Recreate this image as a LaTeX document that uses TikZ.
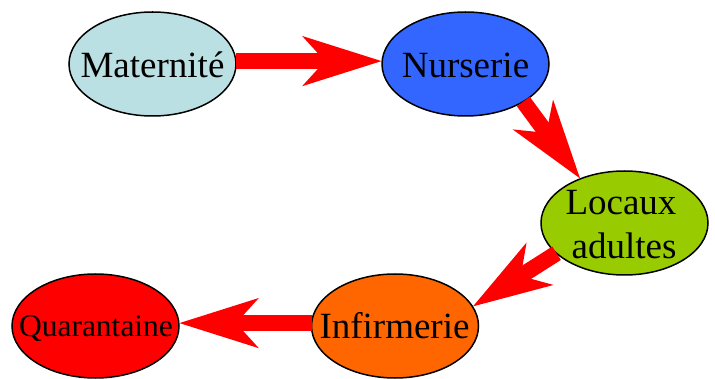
\documentclass[tikz,border=0pt]{standalone}
\usepackage{fontspec}
\setmainfont{Liberation Serif}
\newfontfamily\timesfont{Liberation Serif}
\usetikzlibrary{arrows.meta,shapes.geometric}
\definecolor{matcol}{HTML}{BBE0E3}
\definecolor{nurcol}{HTML}{3366FF}
\definecolor{loccol}{HTML}{99CC00}
\definecolor{infcol}{HTML}{FF6600}
\definecolor{quacol}{HTML}{FF0000}
\begin{document}
\begin{tikzpicture}[x=1pt,y=-1pt,
  place/.style={ellipse, draw=black, line width=1.5pt, inner sep=0pt, outer sep=0pt,
                minimum width=167pt, minimum height=104pt},
  lbl/.style={anchor=base, inner sep=0pt, font=\timesfont\fontsize{37}{43}\selectfont},
  smalllbl/.style={anchor=base, inner sep=0pt, font=\timesfont\fontsize{31.5}{36}\selectfont},
  flow/.style={draw=red, line width=16pt,
               -{Stealth[length=78pt,width=48pt,inset=21pt,fill=red,color=red]}}]
\useasboundingbox (0,0) rectangle (715,379);
\node[place, fill=matcol] (mat) at (152.5,64) {};
\node[place, fill=nurcol] (nur) at (465.5,64) {};
\node[place, fill=loccol] (loc) at (624.5,223) {};
\node[place, fill=infcol] (inf) at (395,326) {};
\node[place, fill=quacol] (qua) at (95.5,326) {};
\node[lbl] (matt) at (152.5,77.5) {Maternité};
\node[lbl] (nurt) at (465.5,77.5) {Nurserie};
\node[lbl] (loct1) at (621,215) {Locaux};
\node[lbl] (loct2) at (624,258.5) {adultes};
\node[lbl] (inft) at (394.5,338) {Infirmerie};
\node[smalllbl] (quat) at (96,337) {Quarantaine};
\draw[flow] (mat.2.5) -- (nur.178);
\draw[flow] (nur.-33) -- (loc.135);
\draw[flow] (loc.204) -- (inf.14);
\draw[flow] (inf.178) -- (qua.2.2);
\end{tikzpicture}
\end{document}
